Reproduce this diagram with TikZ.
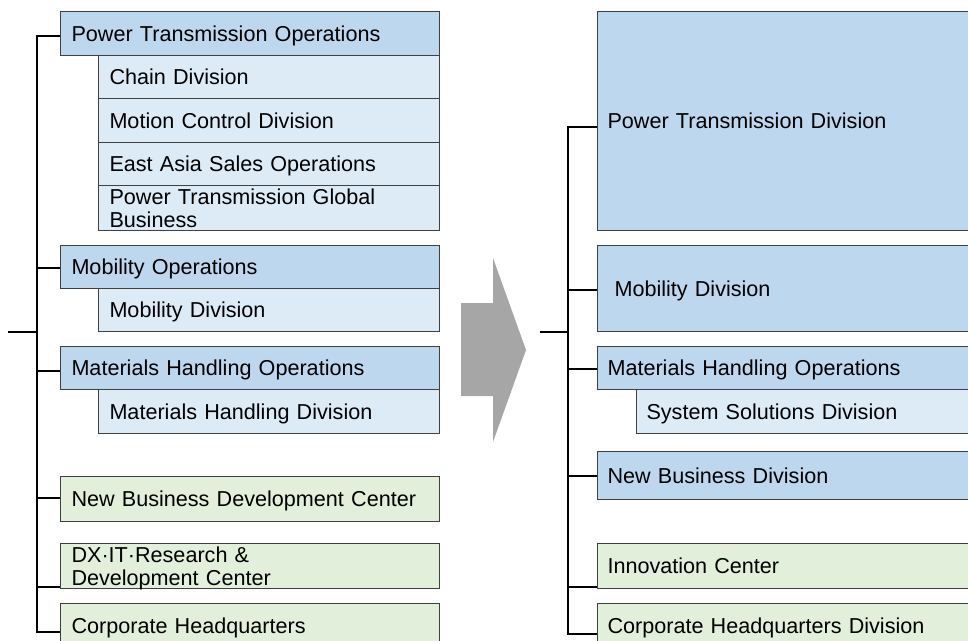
\documentclass[tikz,border=0pt]{standalone}
\usepackage{fontspec}
\setmainfont{Liberation Sans}
\definecolor{opblue}{HTML}{BDD7EE}
\definecolor{divblue}{HTML}{DDEBF7}
\definecolor{ctrgreen}{HTML}{E2EFDA}
\definecolor{edgegray}{HTML}{404040}
\definecolor{arrowgray}{HTML}{A6A6A6}
\tikzset{
  box/.style={draw=edgegray, line width=1bp, anchor=north west, inner ysep=0pt,
    align=left, font=\fontsize{21.6bp}{22.6bp}\selectfont,
    text height=15.6bp, text depth=0pt},
  opbox/.style={box, fill=opblue},
  divbox/.style={box, fill=divblue},
  ctrbox/.style={box, fill=ctrgreen},
  twoline/.style={text depth=22.6bp},
  lwide/.style={minimum width=379bp, text width=357bp, inner xsep=11bp},
  lsub/.style={minimum width=341bp, text width=319bp, inner xsep=11bp},
  rwide/.style={minimum width=400bp, text width=380bp, inner xsep=10bp},
  conn/.style={line width=1.6bp, black},
}
\begin{document}
\begin{tikzpicture}[x=1bp, y=-1bp]
\useasboundingbox (0,0) rectangle (968,641);
\begin{scope}
\clip (0,0) rectangle (968,641);
% ---------- left (before) ----------
\node[opbox, lwide, minimum height=44bp] (pto) at (60,11) {Power Transmission Operations};
\node[divbox, lsub, minimum height=43bp] (chain) at (98,55) {Chain Division};
\node[divbox, lsub, minimum height=44bp] (motion) at (98,98) {Motion Control Division};
\node[divbox, lsub, minimum height=43bp] (eastasia) at (98,142) {East Asia Sales Operations};
\node[divbox, lsub, twoline, minimum height=45bp] (ptgb) at (98,185) {Power Transmission Global\\Business};
\node[opbox, lwide, minimum height=43bp] (mobops) at (60,245) {Mobility Operations};
\node[divbox, lsub, minimum height=43bp] (mobdiv) at (98,288) {Mobility Division};
\node[opbox, lwide, minimum height=43bp] (mho) at (60,346) {Materials Handling Operations};
\node[divbox, lsub, minimum height=44bp] (mhd) at (98,389) {Materials Handling Division};
\node[ctrbox, lwide, minimum height=45bp] (nbdc) at (60,476) {New Business Development Center};
\node[ctrbox, lwide, twoline, minimum height=45bp] (dx) at (60,543) {DX·IT·Research \&\\Development Center};
\node[ctrbox, lwide, minimum height=44bp] (chq) at (60,603) {Corporate Headquarters};

\coordinate (lt1) at (37,36);
\coordinate (lt2) at (37,268);
\coordinate (lt3) at (37,371);
\coordinate (lt4) at (37,498);
\coordinate (lt5) at (37,587);
\coordinate (lt6) at (37,632);
\coordinate (lin) at (8,332);
\coordinate (ljoin) at (37,332);
\draw[conn] (lt1 -| pto.west) -- (lt1) -- (lt6) -- (lt6 -| chq.west);
\draw[conn] (lt2) -- (lt2 -| mobops.west);
\draw[conn] (lt3) -- (lt3 -| mho.west);
\draw[conn] (lt4) -- (lt4 -| nbdc.west);
\draw[conn] (lt5) -- (lt5 -| dx.west);
\draw[conn] (lin) -- (ljoin);

% ---------- arrow ----------
\fill[arrowgray] (461,303) -- (493,303) -- (493,258) -- (526,350) -- (493,442) -- (493,396) -- (461,396) -- cycle;

% ---------- right (after) ----------
\node[opbox, rwide, minimum height=219bp] (ptd) at (597,11) {Power Transmission Division};
\node[opbox, minimum width=400bp, text width=366bp, inner xsep=17bp, minimum height=86bp] (mobdivR) at (597,245) {Mobility Division};
\node[opbox, rwide, minimum height=43bp] (mhoR) at (597,346) {Materials Handling Operations};
\node[divbox, minimum width=361bp, text width=341bp, inner xsep=10bp, minimum height=44bp] (ssd) at (636,389) {System Solutions Division};
\node[opbox, rwide, minimum height=48bp] (nbd) at (597,451) {New Business Division};
\node[ctrbox, rwide, minimum height=45bp] (inno) at (597,543) {Innovation Center};
\node[ctrbox, rwide, minimum height=44bp] (chqd) at (597,603) {Corporate Headquarters Division};

\coordinate (rt1) at (568,127);
\coordinate (rt2) at (568,290);
\coordinate (rt3) at (568,369);
\coordinate (rt4) at (568,476);
\coordinate (rt5) at (568,587);
\coordinate (rt6) at (568,634);
\coordinate (rin) at (540,332);
\coordinate (rjoin) at (568,332);
\draw[conn] (rt1 -| ptd.west) -- (rt1) -- (rt6) -- (rt6 -| chqd.west);
\draw[conn] (rt2) -- (rt2 -| mobdivR.west);
\draw[conn] (rt3) -- (rt3 -| mhoR.west);
\draw[conn] (rt4) -- (rt4 -| nbd.west);
\draw[conn] (rt5) -- (rt5 -| inno.west);
\draw[conn] (rin) -- (rjoin);
\end{scope}
\end{tikzpicture}
\end{document}
